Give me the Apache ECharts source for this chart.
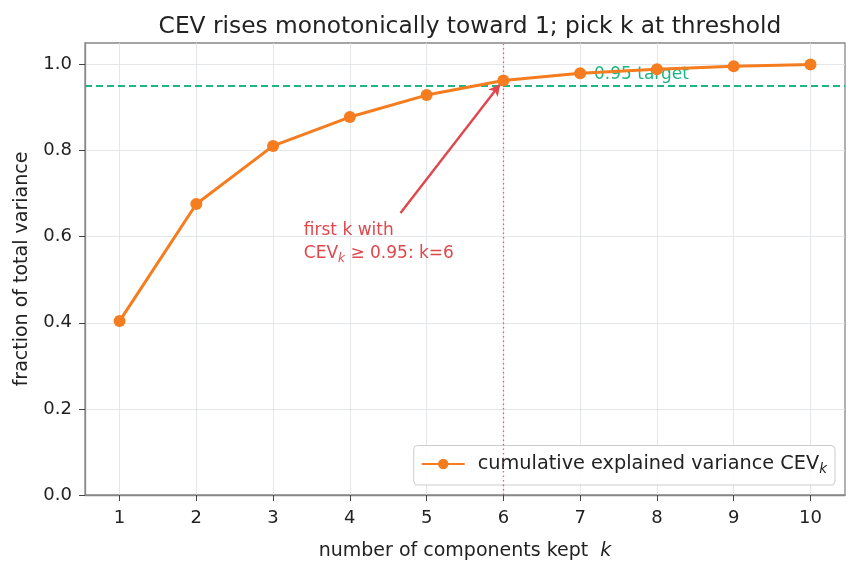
<!DOCTYPE html>
<html style="height: 100%">
<head>
    <meta charset="utf-8">
</head>
<body style="height: 100%; margin: 0">
<div id="container" style="width: 858px; height: 573px"></div>
<script src="https://cdn.jsdelivr.net/npm/echarts@6/dist/echarts.min.js"></script>
<script type="text/javascript">
    // data
    var ks = [1, 2, 3, 4, 5, 6, 7, 8, 9, 10];
    var cev = [0.404, 0.676, 0.811, 0.878, 0.929, 0.963, 0.980, 0.989, 0.996, 1.0];
    var yTicks = [0, 0.2, 0.4, 0.6, 0.8, 1.0];
    var threshold = 0.95;
    var pickK = 6;

    var font = 'DejaVu Sans';
    var orange = '#f57c1f';
    var red = '#e0474c';
    var green = '#1db584';

    var dom = document.getElementById("container");
    var myChart = echarts.init(dom);

    var option = {
        animation: false,
        textStyle: { fontFamily: font },
        title: {
            text: 'CEV rises monotonically toward 1; pick k at threshold',
            left: 465, top: 10, textAlign: 'center',
            textStyle: { fontFamily: font, fontSize: 23.3, fontWeight: 'normal', color: '#222' }
        },
        grid: { left: 85, right: 13, top: 43, bottom: 78, show: true,
                outerBoundsMode: 'none', containLabel: false,
                borderColor: '#888', borderWidth: 1.3, backgroundColor: 'transparent' },
        legend: {
            right: 23, bottom: 88,
            data: ['cev'],
            itemWidth: 43, itemHeight: 13, itemGap: 10,
            padding: [9, 8, 9, 7],
            borderColor: '#ccc', borderWidth: 1, borderRadius: 4,
            backgroundColor: 'rgba(255,255,255,0.85)',
            formatter: function () {
                return '{a|cumulative explained variance CEV}{s|k}';
            },
            textStyle: {
                padding: [0, 0, 0, 8],
                rich: {
                    a: { fontFamily: font, fontSize: 19.3, color: '#222' },
                    s: { fontFamily: font, fontSize: 13.5, fontStyle: 'italic', color: '#222', padding: [10, 0, 0, 0] }
                }
            }
        },
        xAxis: {
            type: 'value', min: 0.55, max: 10.45,
            name: '{n|number of components kept  }{i|k}',
            nameLocation: 'middle', nameGap: 47,
            nameTextStyle: {
                rich: {
                    n: { fontFamily: font, fontSize: 19, color: '#222' },
                    i: { fontFamily: font, fontSize: 19, fontStyle: 'italic', color: '#222' }
                }
            },
            axisLine: { onZero: false, lineStyle: { color: '#888', width: 1.3 } },
            axisTick: { customValues: ks, length: 6, lineStyle: { color: '#444' } },
            axisLabel: { customValues: ks, fontFamily: font, fontSize: 18, color: '#222', margin: 14 },
            splitLine: { show: true, lineStyle: { color: '#dde1e4', width: 0.8 } }
        },
        yAxis: {
            type: 'value', min: 0, max: 1.05,
            name: 'fraction of total variance',
            nameLocation: 'middle', nameGap: 53,
            nameTextStyle: { fontFamily: font, fontSize: 19, color: '#222' },
            axisLine: { show: true, lineStyle: { color: '#888', width: 1.3 } },
            axisTick: { show: true, customValues: yTicks, length: 6, lineStyle: { color: '#444' } },
            axisLabel: {
                customValues: yTicks, fontFamily: font, fontSize: 18, color: '#222', margin: 13,
                formatter: function (v) { return v.toFixed(1); }
            },
            splitLine: { show: true, lineStyle: { color: '#dde1e4', width: 0.8 } }
        },
        series: [
            {
                name: 'cev', type: 'line',
                data: ks.map(function (k, i) { return [k, cev[i]]; }),
                symbol: 'circle', symbolSize: 12,
                lineStyle: { color: orange, width: 3 },
                itemStyle: { color: orange },
                z: 5,
                markLine: {
                    silent: true, symbol: 'none',
                    label: { show: false },
                    data: [
                        { yAxis: threshold, lineStyle: { color: green, type: [7, 4], width: 2 } },
                        { xAxis: pickK, lineStyle: { color: red, type: [1.5, 3], width: 1.3, opacity: 0.85 } },
                        [
                            { coord: [4.66, 0.655], symbol: 'none' },
                            { coord: [5.96, 0.955], symbol: 'arrow', symbolSize: [9, 12],
                              lineStyle: { color: red, type: 'solid', width: 2.4 } }
                        ]
                    ]
                }
            },
            {
                // text annotations placed in data coordinates
                name: 'notes', type: 'scatter', symbolSize: 0, silent: true,
                itemStyle: { opacity: 1 },
                data: [
                    { value: [7.18, 0.977], label: { show: true, position: 'right', distance: 0, opacity: 1,
                        formatter: '0.95 target', fontFamily: font, fontSize: 17, color: green } },
                    { value: [3.40, 0.588], label: { show: true, position: 'right', distance: 0, opacity: 1,
                        formatter: '{a|first k with}\n{a|CEV}{s|k}{a| ≥ 0.95: k=6}',
                        rich: {
                            a: { fontFamily: font, fontSize: 17, color: red, lineHeight: 23 },
                            s: { fontFamily: font, fontSize: 12, fontStyle: 'italic', color: red, padding: [10, 0, 0, 0] }
                        } } }
                ]
            }
        ]
    };
    myChart.setOption(option);
</script>
</body>
</html>
